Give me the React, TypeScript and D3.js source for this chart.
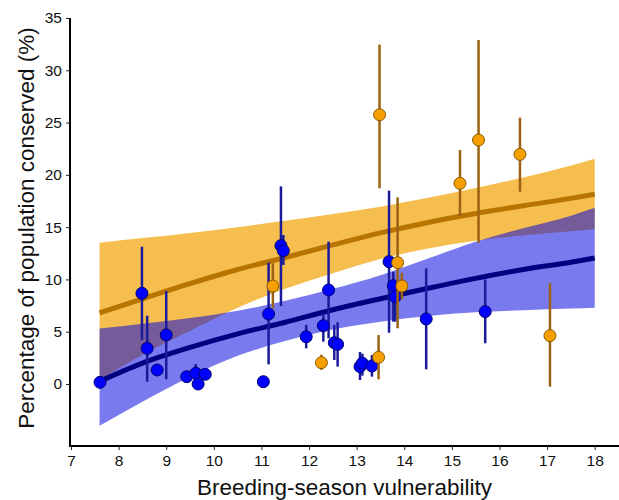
import { useEffect, useRef } from "react";
import * as d3 from "d3";

// points: breeding-season vulnerability vs % conserved, with interval ends
const blueVuln = [7.61, 8.49, 8.6, 8.81, 9.0, 9.43, 9.62, 9.67, 9.82, 11.04, 11.15, 11.41, 11.46, 11.94, 12.3, 12.41, 12.53, 12.6, 13.07, 13.12, 13.32, 13.68, 13.77, 13.81, 14.46, 15.7];
const bluePct = [0.16, 8.67, 3.41, 1.34, 4.69, 0.7, 1.02, 0, 0.93, 0.22, 6.69, 13.23, 12.75, 4.52, 5.58, 8.99, 3.95, 3.79, 1.66, 1.98, 1.72, 11.7, 9.4, 8.35, 6.22, 6.92];
const blueLow = [0.16, 4.2, 0.22, 1.34, 0.45, 0.7, 0.2, 0, 0.93, 0.22, 1.88, 7.46, 11.38, 3.41, 4.05, 4.37, 2.3, 1.66, 0.38, 0.8, 0.7, 4.9, 5.96, 5.96, 1.4, 3.89];
const blueHigh = [0.16, 13.13, 6.53, 1.34, 8.89, 0.7, 1.9, 0, 0.93, 0.22, 11.6, 18.9, 14.25, 5.64, 6.76, 13.61, 5.64, 5.9, 3.06, 2.9, 2.77, 18.49, 10.74, 9.3, 11.06, 10.0];

const orangeVuln = [11.24, 12.26, 13.46, 13.48, 13.86, 13.95, 15.17, 15.56, 16.43, 17.06];
const orangePct = [9.37, 2.04, 2.55, 25.75, 11.6, 9.37, 19.19, 23.33, 21.96, 4.62];
const orangeLow = [7.24, 1.35, 0.45, 18.71, 5.33, 8.1, 16.07, 13.5, 18.39, -0.26];
const orangeHigh = [11.54, 2.8, 4.68, 32.46, 17.85, 10.64, 22.38, 32.9, 25.47, 9.63];

// fitted curves and their bands, read at these x positions
const fitX = [7.6, 8.5, 9.5, 10.5, 11.5, 12.5, 13.5, 14.5, 15.5, 16.5, 17.5, 18];
const orangeFit = [6.8, 8.15, 9.6, 10.95, 12.1, 13.3, 14.45, 15.45, 16.3, 17.05, 17.75, 18.15];
const orangeUpper = [13.5, 13.95, 14.45, 15.0, 15.6, 16.25, 16.95, 17.8, 18.75, 19.75, 20.9, 21.55];
const orangeLower = [0.4, 2.8, 5.1, 7.3, 9.1, 10.6, 11.95, 12.95, 13.7, 14.2, 14.6, 14.82];
const blueFit = [0.25, 2.0, 3.5, 4.8, 5.9, 7.1, 8.15, 9.15, 10.1, 10.95, 11.65, 12.05];
const blueUpper = [5.3, 5.75, 6.3, 7.0, 7.95, 9.1, 10.4, 12.0, 13.6, 14.9, 16.1, 16.86];
const blueLower = [-4.0, -1.7, 0.7, 2.7, 4.1, 5.2, 5.95, 6.5, 6.85, 7.05, 7.22, 7.3];

const xTicks = [7, 8, 9, 10, 11, 12, 13, 14, 15, 16, 17, 18];
const yTicks = [0, 5, 10, 15, 20, 25, 30, 35];

const FONT = "'Liberation Sans', Arial, sans-serif";

const App = () => {
  const ref = useRef<SVGSVGElement | null>(null);

  useEffect(() => {
    const width = 619;
    const height = 500;
    const left = 70;
    const top = 18;
    const bottom = 446;

    const svg = d3.select(ref.current);
    svg.selectAll("*").remove();

    const x = d3.scaleLinear().domain([7, 18.51]).range([71, width]);
    const y = d3.scaleLinear().domain([-5.93, 35]).range([bottom, top]);

    const band = (lo: number[], hi: number[]) =>
      d3
        .area<number>()
        .x((d) => x(d))
        .y0((_, i) => y(lo[i]))
        .y1((_, i) => y(hi[i]))
        .curve(d3.curveMonotoneX)(fitX);

    const line = (vals: number[]) =>
      d3
        .line<number>()
        .x((d) => x(d))
        .y((_, i) => y(vals[i]))
        .curve(d3.curveMonotoneX)(fitX);

    svg.append("path").attr("d", band(orangeLower, orangeUpper)).attr("fill", "#f6be4e");
    svg.append("path").attr("d", band(blueLower, blueUpper)).attr("fill", "rgba(0,0,225,0.52)");
    svg
      .append("path")
      .attr("d", line(orangeFit))
      .attr("fill", "none")
      .attr("stroke", "#b87400")
      .attr("stroke-width", 5);
    svg
      .append("path")
      .attr("d", line(blueFit))
      .attr("fill", "none")
      .attr("stroke", "#000080")
      .attr("stroke-width", 5);

    const drawSeries = (
      xs: number[],
      ys: number[],
      lo: number[],
      hi: number[],
      barColor: string,
      fill: string,
      stroke: string
    ) => {
      const g = svg.append("g");
      g.selectAll("line")
        .data(xs)
        .enter()
        .append("line")
        .attr("x1", (d) => x(d))
        .attr("x2", (d) => x(d))
        .attr("y1", (_, i) => y(lo[i]))
        .attr("y2", (_, i) => y(hi[i]))
        .attr("stroke", barColor)
        .attr("stroke-width", 2.5);
      g.selectAll("circle")
        .data(xs)
        .enter()
        .append("circle")
        .attr("cx", (d) => x(d))
        .attr("cy", (_, i) => y(ys[i]))
        .attr("r", 6)
        .attr("fill", fill)
        .attr("stroke", stroke)
        .attr("stroke-width", 1);
    };

    drawSeries(blueVuln, bluePct, blueLow, blueHigh, "#1a1a9c", "#0000ff", "#00006e");
    drawSeries(orangeVuln, orangePct, orangeLow, orangeHigh, "#9a6212", "#f5a000", "#8b5a00");

    const yAxis = svg
      .append("g")
      .attr("transform", `translate(${left},0)`)
      .call(d3.axisLeft(y).tickValues(yTicks).tickSize(4).tickSizeOuter(0).tickPadding(4));
    yAxis.select(".domain").attr("d", `M0,${top}V${bottom}`).attr("stroke-width", 2);

    const xAxis = svg
      .append("g")
      .attr("transform", `translate(0,${bottom})`)
      .call(d3.axisBottom(x).tickValues(xTicks).tickSize(4).tickSizeOuter(0).tickPadding(5));
    xAxis.select(".domain").attr("d", `M${left - 1},0H${width}`).attr("stroke-width", 2);

    svg
      .selectAll(".tick text")
      .attr("font-family", FONT)
      .attr("font-size", 15.5)
      .attr("fill", "#111");
    svg.selectAll(".tick line").attr("stroke", "#222");

    svg
      .append("text")
      .attr("x", (left + width) / 2)
      .attr("y", 495)
      .attr("text-anchor", "middle")
      .attr("font-family", FONT)
      .attr("font-size", 22.5)
      .attr("fill", "#111")
      .text("Breeding-season vulnerability");

    svg
      .append("text")
      .attr("transform", `translate(34,${(top + bottom) / 2 - 4}) rotate(-90)`)
      .attr("text-anchor", "middle")
      .attr("font-family", FONT)
      .attr("font-size", 22.5)
      .attr("fill", "#111")
      .text("Percentage of population conserved (%)");
  }, []);

  return (
    <svg
      ref={ref}
      width={619}
      height={500}
      style={{ position: "absolute", left: 0, top: 0, background: "#fff" }}
    />
  );
};

export default App;
